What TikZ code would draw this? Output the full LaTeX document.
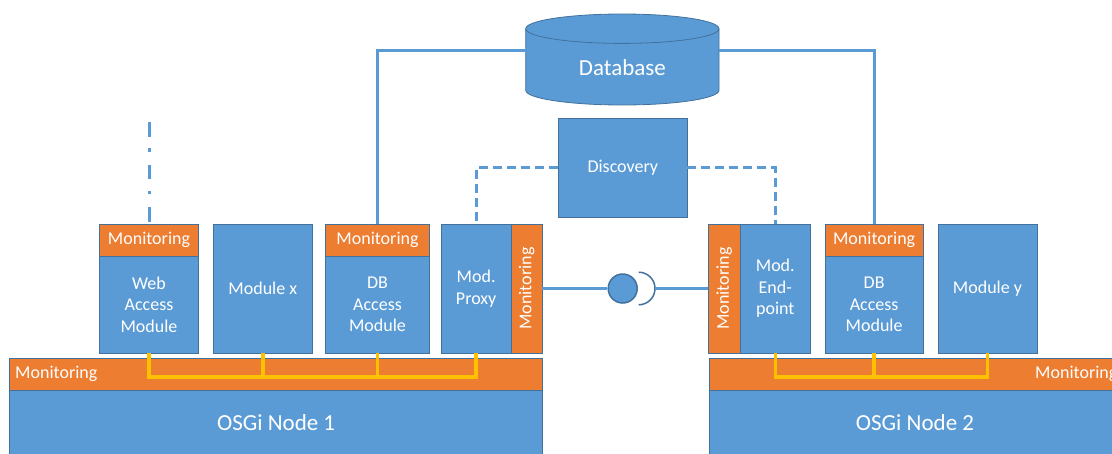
\documentclass[tikz,border=0pt]{standalone}
\usepackage{fontspec}
\setmainfont{Carlito}
\usepackage{graphicx}
\definecolor{oblue}{HTML}{5B9BD5}
\definecolor{oedge}{HTML}{41719C}
\definecolor{oorange}{HTML}{ED7D31}
\definecolor{oyellow}{HTML}{FFC000}
\tikzset{
  bluebox/.style={draw=oedge, line width=0.8pt, fill=oblue, text=white, inner sep=0pt, outer sep=0pt,
    anchor=north west, align=center, font=\fontsize{18}{21.5}\selectfont},
  orangebox/.style={bluebox, fill=oorange},
  bigtext/.style={font=\fontsize{23}{27}\selectfont, text=white},
  conn/.style={draw=oblue, line width=3pt},
  dconn/.style={conn, dash pattern=on 9pt off 5pt},
  ddconn/.style={conn, dash pattern=on 14.5pt off 11.5pt on 3.5pt off 13pt},
  yline/.style={draw=oyellow, line width=3.5pt},
}
\begin{document}
\begin{tikzpicture}[x=1pt, y=-1pt]
\useasboundingbox (0,0) rectangle (1112,453);
\clip (0,0) rectangle (1112,453);

% OSGi node bars
\node[orangebox, minimum width=533, minimum height=32] (bar1) at (9.6,358) {};
\node[bluebox, bigtext, minimum width=533, minimum height=66] (node1) at (9.6,390) {OSGi Node 1};
\node[anchor=west, inner sep=0pt, text=white, font=\fontsize{18}{21.5}\selectfont] (bar1txt) at (15,374) {Monitoring};
\node[orangebox, minimum width=420, minimum height=32] (bar2) at (709.3,358) {};
\node[bluebox, bigtext, minimum width=411.4, minimum height=66] (node2) at (709.3,390) {OSGi Node 2};
\node[anchor=west, inner sep=0pt, text=white, font=\fontsize{18}{21.5}\selectfont] (bar2txt) at (1035,374) {Monitoring};

% Database cylinder
\filldraw[fill=oblue, draw=oedge, line width=0.8pt]
  (525.7,28.7) -- (525.7,90.3) arc[start angle=180, end angle=0, x radius=96.65, y radius=14.7]
  -- (719,28.7) arc[start angle=0, end angle=-180, x radius=96.65, y radius=14.7] -- cycle;
\draw[draw=oedge, line width=0.8pt]
  (525.7,28.7) arc[start angle=180, end angle=0, x radius=96.65, y radius=14.7];
\node[inner sep=0pt, outer sep=0pt, minimum width=193.3, minimum height=61.6,
  label={[bigtext, yshift=-8.5pt]center:Database}] (db) at (622.35,59.5) {};

% Discovery
\node[bluebox, minimum width=129, minimum height=99] (disc) at (558.3,118.3) {Discovery};

% Node 1 modules
\node[orangebox, minimum width=99.4, minimum height=32] (webmon) at (99.3,224) {Monitoring};
\node[bluebox, minimum width=99.4, minimum height=97] (web) at (99.3,256) {Web\\Access\\Module};
\node[bluebox, minimum width=99, minimum height=129] (modx) at (213.3,224) {Module x};
\node[orangebox, minimum width=104.4, minimum height=32] (db1mon) at (325.3,224) {Monitoring};
\node[bluebox, minimum width=104.4, minimum height=97] (db1) at (325.3,256) {DB\\Access\\Module};
\node[bluebox, minimum width=69.7, minimum height=129] (proxy) at (441.3,224) {Mod.\\Proxy};
\node[orangebox, minimum width=31.3, minimum height=129] (proxymon) at (511,224) {\rotatebox{90}{Monitoring}};

% Node 2 modules
\node[orangebox, minimum width=32, minimum height=129] (epmon) at (708.3,224) {\rotatebox{90}{Monitoring}};
\node[bluebox, minimum width=70, minimum height=129] (ep) at (740.3,224) {Mod.\\End-\\point};
\node[orangebox, minimum width=97.7, minimum height=32] (db2mon) at (825.3,224) {Monitoring};
\node[bluebox, minimum width=97.7, minimum height=97] (db2) at (825.3,256) {DB\\Access\\Module};
\node[bluebox, minimum width=99, minimum height=129] (mody) at (938,224) {Module y};

% Database connections
\draw[conn] ([yshift=9pt]db.west) -| (db1mon.north);
\draw[conn] ([yshift=9pt]db.east) -| (db2mon.north);

% Discovery connections
\draw[dconn] (disc.west) -| (proxy.north);
\draw[dconn] (disc.east) -| (ep.north);

% Web access dash-dot line
\coordinate (webtop) at (149,122.3);
\draw[ddconn] (webtop) -- (webmon.north);

% Ball and socket
\node[circle, fill=oblue, draw=oedge, line width=1.5pt, minimum size=29, inner sep=0pt] (ball) at (622.7,288.5) {};
\coordinate (sockc) at (638.7,288.5);
\coordinate (sock) at (655,288.5);
\draw[conn] (proxymon.east) -- (ball.west);
\draw[draw=oedge, line width=1.5pt] (sockc) ++(0,-16.3) arc[start angle=-90, end angle=90, radius=16.3];
\draw[conn] (sock) -- (epmon.west);

% Yellow internal buses
\draw[yline] (web.south) -- ++(0,24) -| (proxy.south);
\draw[yline] (modx.south) -- ++(0,24);
\draw[yline] (db1.south) -- ++(0,24);
\draw[yline] (ep.south) -- ++(0,24) -| (mody.south);
\draw[yline] (db2.south) -- ++(0,24);
\end{tikzpicture}
\end{document}
